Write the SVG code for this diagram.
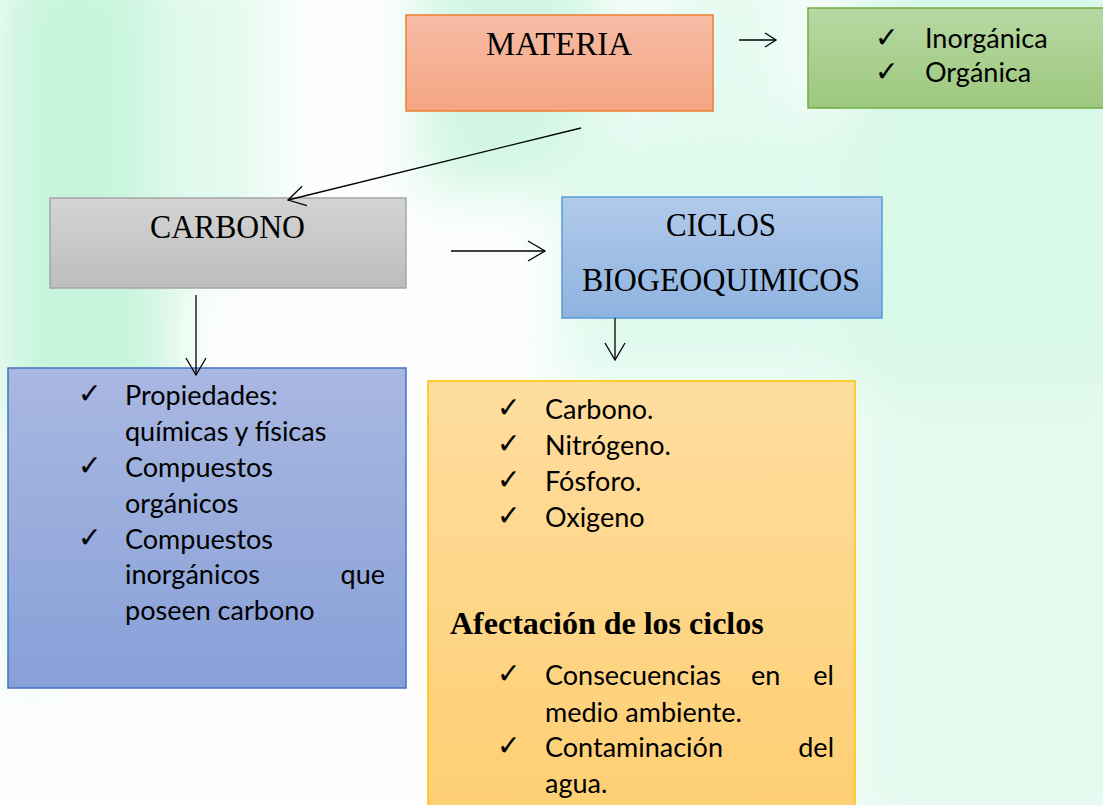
<svg xmlns="http://www.w3.org/2000/svg" width="1103" height="805" viewBox="0 0 1103 805">
<defs>
<filter id="blur" x="-30%" y="-30%" width="160%" height="160%"><feGaussianBlur stdDeviation="28"/></filter>
<linearGradient id="gSalmon" x1="0" y1="0" x2="0" y2="1"><stop offset="0" stop-color="#f7bca6"/><stop offset="1" stop-color="#f4a582"/></linearGradient>
<linearGradient id="gGreen" x1="0" y1="0" x2="0" y2="1"><stop offset="0" stop-color="#b7d8a3"/><stop offset="1" stop-color="#9dc87e"/></linearGradient>
<linearGradient id="gGray" x1="0" y1="0" x2="0" y2="1"><stop offset="0" stop-color="#d4d4d4"/><stop offset="1" stop-color="#bdbdbd"/></linearGradient>
<linearGradient id="gSky" x1="0" y1="0" x2="0" y2="1"><stop offset="0" stop-color="#b1caea"/><stop offset="1" stop-color="#8fb3e0"/></linearGradient>
<linearGradient id="gBlue" x1="0" y1="0" x2="0" y2="1"><stop offset="0" stop-color="#a9b8e1"/><stop offset="1" stop-color="#88a0d8"/></linearGradient>
<linearGradient id="gOrange" x1="0" y1="0" x2="0" y2="1"><stop offset="0" stop-color="#fedd9f"/><stop offset="1" stop-color="#fecf72"/></linearGradient>
<marker id="head" markerUnits="userSpaceOnUse" markerWidth="40" markerHeight="40" viewBox="-20 -20 40 40" refX="0" refY="0" orient="auto">
<path d="M-17,-10 L0,0 L-17,10" fill="none" stroke="#000" stroke-width="1.3"/>
</marker>
<marker id="headSmall" markerUnits="userSpaceOnUse" markerWidth="30" markerHeight="30" viewBox="-15 -15 30 30" refX="0" refY="0" orient="auto">
<path d="M-11,-7 L0,0 L-11,7" fill="none" stroke="#000" stroke-width="1.3"/>
</marker>
</defs>
<style>
.serif{font-family:"Liberation Serif","Times New Roman",serif;font-size:34px;fill:#000}
.bold{font-family:"Liberation Serif","Times New Roman",serif;font-size:32px;font-weight:bold;fill:#000}
.sans{font-family:Lato,"Noto Sans",sans-serif;font-size:27px;fill:#000}
.chk{font-family:"DejaVu Sans",sans-serif;font-size:28px;fill:#000;stroke:#000;stroke-width:0.15}
.conn line{stroke:#000;stroke-width:1.3;fill:none}
</style>

<g id="background">
<rect x="0" y="0" width="1103" height="805" fill="#fdfefd"/>
<g filter="url(#blur)">
<rect x="0" y="-40" width="170" height="480" fill="#c6f4dc"/>
<rect x="150" y="-40" width="120" height="300" fill="#e2faee"/>
<rect x="0" y="420" width="60" height="260" fill="#e4f8ee"/>
<rect x="420" y="-40" width="180" height="230" fill="#d0f6e3"/>
<rect x="560" y="110" width="320" height="280" fill="#e0faee"/>
<rect x="850" y="-40" width="300" height="420" fill="#d8f8e8"/>
<rect x="850" y="380" width="300" height="460" fill="#e3faef"/>
<rect x="650" y="-40" width="150" height="160" fill="#e6fbf1"/>
</g>
</g>

<g id="node-materia">
<rect x="406" y="15" width="307" height="96" fill="url(#gSalmon)" stroke="#ed7d31" stroke-width="1.5"/>
<text class="serif" x="486" y="55" textLength="146" lengthAdjust="spacingAndGlyphs">MATERIA</text>
</g>

<g id="node-tipos">
<rect x="808" y="8" width="300" height="100" fill="url(#gGreen)" stroke="#70ad47" stroke-width="1.5"/>
<text class="chk" x="875" y="47">✓</text>
<text class="sans" x="925" y="48">Inorgánica</text>
<text class="chk" x="875" y="81">✓</text>
<text class="sans" x="925" y="82">Orgánica</text>
</g>

<g id="node-carbono">
<rect x="50" y="198" width="356" height="90" fill="url(#gGray)" stroke="#a5a5a5" stroke-width="1.5"/>
<text class="serif" x="150" y="238" textLength="155" lengthAdjust="spacingAndGlyphs">CARBONO</text>
</g>

<g id="node-ciclos">
<rect x="562" y="197" width="320" height="121" fill="url(#gSky)" stroke="#5b9bd5" stroke-width="1.5"/>
<text class="serif" x="666" y="236" textLength="110" lengthAdjust="spacingAndGlyphs">CICLOS</text>
<text class="serif" x="582" y="291" textLength="278" lengthAdjust="spacingAndGlyphs">BIOGEOQUIMICOS</text>
</g>

<g id="node-propiedades">
<rect x="8" y="368" width="398" height="320" fill="url(#gBlue)" stroke="#4472c4" stroke-width="1.5"/>
<text class="chk" x="78" y="403">✓</text>
<text class="sans" x="125" y="405">Propiedades:</text>
<text class="sans" x="125" y="441">químicas y físicas</text>
<text class="chk" x="78" y="475">✓</text>
<text class="sans" x="125" y="477">Compuestos</text>
<text class="sans" x="125" y="513">orgánicos</text>
<text class="chk" x="78" y="547">✓</text>
<text class="sans" x="125" y="549">Compuestos</text>
<text class="sans" x="125" y="584">inorgánicos</text>
<text class="sans" x="385" y="584" text-anchor="end">que</text>
<text class="sans" x="125" y="620">poseen carbono</text>
</g>

<g id="node-ciclos-lista">
<rect x="428" y="381" width="427" height="440" fill="url(#gOrange)" stroke="#ffc000" stroke-width="1.5"/>
<text class="chk" x="497" y="417">✓</text>
<text class="sans" x="545" y="419">Carbono.</text>
<text class="chk" x="497" y="453">✓</text>
<text class="sans" x="545" y="455">Nitrógeno.</text>
<text class="chk" x="497" y="489">✓</text>
<text class="sans" x="545" y="491">Fósforo.</text>
<text class="chk" x="497" y="525">✓</text>
<text class="sans" x="545" y="527">Oxigeno</text>
<text class="bold" x="450" y="634">Afectación de los ciclos</text>
<text class="chk" x="497" y="683">✓</text>
<text class="sans" x="545" y="685">Consecuencias</text>
<text class="sans" x="751" y="685">en</text>
<text class="sans" x="834" y="685" text-anchor="end">el</text>
<text class="sans" x="545" y="722">medio ambiente.</text>
<text class="chk" x="497" y="755">✓</text>
<text class="sans" x="545" y="757">Contaminación</text>
<text class="sans" x="834" y="757" text-anchor="end">del</text>
<text class="sans" x="545" y="793">agua.</text>
</g>

<g id="connectors" class="conn">
<line x1="739" y1="40" x2="776" y2="40" marker-end="url(#headSmall)"/>
<line x1="581" y1="128" x2="288" y2="200" marker-end="url(#head)"/>
<line x1="451" y1="251" x2="545" y2="251" marker-end="url(#head)"/>
<line x1="196" y1="295" x2="196" y2="375" marker-end="url(#head)"/>
<line x1="615" y1="318" x2="615" y2="360" marker-end="url(#head)"/>
</g>
</svg>
